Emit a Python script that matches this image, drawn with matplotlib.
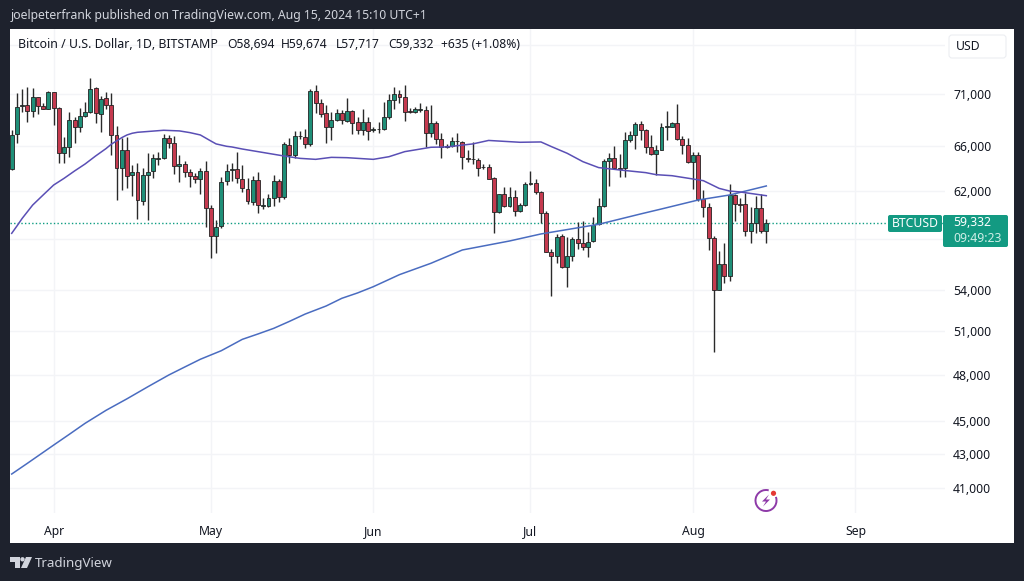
import numpy as np
from matplotlib import pyplot as plt
from matplotlib.patches import Rectangle, FancyBboxPatch, Arc, Circle, Polygon

opens = [63955, 67160, 69830, 69890, 69380, 70680, 69830, 69570, 71170, 69600,
         65430, 65920, 68470, 67780, 68860, 69280, 71570, 69050, 70580, 69960,
         67060, 64010, 65670, 63420, 63720, 61200, 63420, 63800, 64890, 64910,
         66750, 66350, 64190, 64400, 63660, 63340, 63040, 63780, 60600, 58250,
         59070, 62900, 63860, 63920, 63100, 62230, 61110, 62990, 60770, 60770,
         61400, 62900, 61480, 66170, 65190, 66930, 66840, 66200, 71340, 70080,
         69120, 67850, 68470, 69180, 68410, 69310, 68250, 67530, 68250, 67500,
         67600, 67660, 68730, 70410, 71010, 70680, 69310, 69220, 69470, 69410,
         67220, 68160, 66690, 65980, 66040, 66530, 66380, 64970, 64890, 64760,
         64160, 64160, 63130, 60210, 61740, 60770, 61540, 60320, 60820, 62660,
         62720, 61970, 60120, 56950, 56650, 58260, 55820, 56650, 58010, 57660,
         57340, 57880, 59210, 60770, 64700, 64970, 64020, 64020, 66590, 67090,
         68090, 67530, 65920, 65310, 65670, 67840, 67780, 68160, 66720, 66130,
         64550, 65220, 61340, 60630, 58120, 54030, 56000, 55120, 61680, 60880,
         60880, 58690, 59350, 60540, 58694]
highs = [67530, 71140, 71500, 71660, 71570, 70740, 70080, 71300, 71240, 69700,
         66900, 69210, 68730, 69600, 70180, 72640, 71660, 70810, 71240, 71140,
         67910, 66750, 66900, 64310, 64520, 64070, 65430, 65300, 65520, 67160,
         67060, 67000, 65220, 64700, 63920, 63570, 64010, 64680, 60820, 59570,
         63280, 64400, 64520, 65460, 64310, 63130, 63340, 63720, 61450, 61770,
         63400, 63040, 66440, 66750, 67440, 67440, 67600, 71470, 71900, 70550,
         69960, 69280, 69500, 69440, 70580, 69440, 68800, 69500, 68800, 67780,
         68320, 70250, 71010, 71660, 71400, 71900, 69600, 69760, 70080, 69830,
         69920, 68410, 67220, 66230, 66840, 67220, 66500, 65670, 66440, 64940,
         64400, 64400, 63220, 61770, 62340, 62400, 62110, 61030, 62840, 63780,
         63040, 62050, 60350, 57180, 58420, 58420, 58200, 58150, 59430, 59490,
         58560, 59790, 61400, 64820, 65370, 66040, 65310, 67370, 67470, 68320,
         68410, 67590, 67060, 66130, 68160, 69370, 68250, 69990, 66970, 66750,
         65520, 65520, 62110, 61030, 58280, 57050, 57720, 62630, 61740, 61400,
         61820, 60680, 61600, 61770, 59674]
lows = [63860, 66350, 69280, 68320, 68800, 69020, 69500, 69500, 68000, 64470,
        64470, 65060, 66290, 67370, 68800, 69180, 68160, 67370, 69500, 65220,
        61250, 62110, 62250, 61600, 59620, 60820, 59570, 63130, 64310, 64820,
        65820, 63510, 62780, 63280, 62400, 62690, 61770, 59020, 56470, 56910,
        58880, 62540, 62930, 62690, 61910, 60880, 60820, 60180, 60460, 60630,
        60740, 61110, 61310, 64520, 64910, 66660, 65860, 66040, 69120, 68800,
        66290, 66590, 68380, 68100, 68290, 67160, 67160, 67060, 66590, 67370,
        67220, 67530, 68600, 69540, 70080, 68410, 69120, 69120, 69250, 65920,
        66900, 66230, 64910, 65820, 65920, 65520, 63980, 64620, 64400, 63340,
        63980, 63040, 58470, 60180, 60680, 60630, 59900, 60260, 60770, 62550,
        61770, 59290, 56950, 53580, 56080, 55690, 54280, 56290, 57180, 57130,
        56600, 57800, 59150, 60680, 62460, 63930, 63220, 63280, 66440, 65800,
        66590, 65430, 65220, 63420, 65670, 66590, 67780, 66590, 65280, 64460,
        62170, 61200, 59790, 57130, 49590, 54030, 54590, 54740, 59510, 60260,
        58260, 57660, 58470, 58470, 57717]
closes = [67060, 69760, 69890, 69380, 70680, 69830, 69570, 71200, 69630, 65430,
          65920, 68470, 67850, 68860, 69280, 71500, 69120, 70480, 69960, 67090,
          64010, 65670, 63370, 63720, 61250, 63420, 63720, 64910, 64950, 66810,
          66350, 64220, 64400, 63690, 63370, 63040, 63750, 60600, 58250, 59020,
          62840, 63800, 63920, 63130, 62250, 61170, 62990, 60820, 60820, 61400,
          62900, 61480, 66230, 65190, 66960, 67000, 66230, 71340, 70080, 69050,
          67850, 68470, 69180, 68470, 69310, 68220, 67530, 68250, 67410, 67630,
          67660, 68730, 70410, 71010, 70740, 69280, 69250, 69570, 69540, 67280,
          68160, 66690, 65920, 66040, 66530, 66470, 65060, 64890, 64820, 64070,
          64100, 63100, 60210, 61740, 60770, 61540, 60320, 60820, 62600, 62720,
          61970, 60120, 57000, 56650, 58200, 55820, 56650, 57980, 57720, 57340,
          57800, 59150, 60770, 64700, 64970, 64020, 63960, 66590, 67090, 68060,
          67530, 65920, 65310, 65670, 67840, 67910, 68160, 66720, 66130, 64550,
          65220, 61340, 60630, 58120, 54030, 56000, 55120, 61680, 60880, 60800,
          58690, 59290, 60540, 58660, 59332]

ma50_days = [0, 1, 2, 4, 6, 8, 10, 12, 14, 16, 18, 19, 20, 21, 22, 23, 24, 29, 32,
             34, 36, 38, 39, 41, 42, 44, 47, 49, 52, 55, 58, 61, 64, 69, 72, 75,
             80, 83, 88, 91, 97, 101, 103, 106, 109, 112, 116, 121, 123, 126, 130,
             132, 135, 137, 139, 144]
ma50 = [58470, 59070, 59700, 60820, 61680, 62540, 63130, 63780, 64400, 65120,
        65800, 66200, 66500, 66810, 67060, 67220, 67310, 67500, 67440, 67280,
        67060, 66500, 66230, 66010, 65950, 65760, 65520, 65360, 65120, 64910,
        64820, 65000, 64970, 64820, 65060, 65520, 65920, 65950, 66230, 66550,
        66380, 66410, 65980, 65370, 64610, 64080, 63870, 63630, 63450, 63360,
        63070, 62920, 62250, 62020, 61940, 61620]

ma200_days = [0, 3, 8, 11, 14, 18, 22, 26, 30, 33, 36, 40, 44, 47, 50, 53, 56, 60,
              63, 66, 69, 74, 80, 86, 95, 101, 112, 120, 124, 131, 137, 144]
ma200 = [41810, 42440, 43530, 44190, 44870, 45690, 46430, 47220, 48000, 48530,
         49060, 49650, 50440, 50820, 51220, 51720, 52250, 52840, 53410, 53810,
         54280, 55200, 56080, 57130, 57850, 58420, 59210, 60070, 60490, 61250,
         61680, 62460]

grid_prices = [76000, 71000, 66000, 62000, 58000, 54000, 51000, 48000, 45000, 43000, 41000]
grid_labels = ['', '71,000', '66,000', '62,000', '', '54,000', '51,000', '48,000', '45,000', '43,000', '41,000']
month_days = [8, 38, 69, 99, 130, 161]
month_labels = ['Apr', 'May', 'Jun', 'Jul', 'Aug', 'Sep']

DARK = '#1e222d'
GREEN = '#1f8f78'
RED = '#c53a4f'
TEAL = '#139a82'
GRID = '#f3f4f7'
W, H = 1024, 581

plt.rcParams['font.family'] = ['Noto Sans', 'DejaVu Sans']
fig = plt.figure(figsize=(W / 100, H / 100), dpi=100, facecolor=DARK)

# white panel behind the chart
bg = fig.add_axes([0, 0, 1, 1], zorder=0)
bg.set_xlim(0, W)
bg.set_ylim(H, 0)
bg.axis('off')
bg.add_patch(Rectangle((10, 28.5), 1003.5, 514.5, facecolor='white', edgecolor='none'))

ax = fig.add_axes([10 / W, 1 - 513 / H, 935 / W, 484 / H], zorder=1)
ax.patch.set_alpha(0)
for s in ax.spines.values():
    s.set_visible(False)

days = np.arange(len(closes))
o = np.array(opens)
c = np.array(closes)
up = c >= o
ax.vlines(days, lows, highs, color='#2a2a2a', linewidth=1, zorder=3)
ax.bar(days, np.abs(c - o), bottom=np.minimum(o, c), width=0.75,
       color=np.where(up, GREEN, RED), edgecolor='#222222', linewidth=0.6, zorder=4)
ax.plot(ma200_days, ma200, color='#4a6cc0', linewidth=1.1, zorder=5)
ax.plot(ma50_days, ma50, color='#5a4fb5', linewidth=1.1, zorder=5)
ax.axhline(closes[-1], color='#0f9d82', linewidth=1, linestyle=(0, (1, 1.6)), zorder=2)

ax.set_yscale('log')
ax.set_xlim(-0.324, 178.1)
ax.set_ylim(39600, 77730)
ax.minorticks_off()
ax.yaxis.tick_right()
ax.set_yticks(grid_prices)
ax.set_yticklabels(grid_labels, fontsize=8.8, color='#131722')
ax.set_xticks(month_days)
ax.set_xticklabels(month_labels, fontsize=8.8, color='#131722')
ax.tick_params(axis='both', length=0)
ax.tick_params(axis='y', pad=5.8)
ax.tick_params(axis='x', pad=8.5)
ax.grid(True, color=GRID, linewidth=1, zorder=0)
ax.set_axisbelow(True)

# everything around the chart, in pixels
ov = fig.add_axes([0, 0, 1, 1], zorder=2)
ov.set_xlim(0, W)
ov.set_ylim(H, 0)
ov.axis('off')
ov.patch.set_alpha(0)

ov.text(11, 15.5, 'joelpeterfrank published on TradingView.com, Aug 15, 2024 15:10 UTC+1',
        color='#d1d4dc', fontsize=8.8, va='center')
ov.text(18.5, 45, 'Bitcoin / U.S. Dollar, 1D, BITSTAMP', color='#131722', fontsize=8.9, va='center')
for x, s in [(227, 'O58,694'), (281, 'H59,674'), (336, 'L57,717'), (388, 'C59,332'), (441, '+635 (+1.08%)')]:
    ov.text(x, 45, s, color='#131722', fontsize=8.7, va='center')

ov.add_patch(FancyBboxPatch((949, 35), 57, 23, boxstyle='round,pad=0,rounding_size=3',
                            facecolor='white', edgecolor='#eceef2', linewidth=0.8))
ov.text(968, 46, 'USD', color='#131722', fontsize=8.8, va='center', ha='center')

ov.add_patch(FancyBboxPatch((888, 215), 54, 17, boxstyle='round,pad=0,rounding_size=2',
                            facecolor=TEAL, edgecolor='none'))
ov.text(915, 223.5, 'BTCUSD', color='white', fontsize=8.8, va='center', ha='center')
ov.add_patch(FancyBboxPatch((943, 215), 65, 32, boxstyle='round,pad=0,rounding_size=2',
                            facecolor=TEAL, edgecolor='none'))
ov.text(953, 222.5, '59,332', color='white', fontsize=8.8, va='center')
ov.text(953, 238, '09:49:23', color='#cfeee7', fontsize=8.8, va='center')

# lightning badge
ov.add_patch(Arc((766, 500.5), 21, 21, theta1=-20, theta2=285, edgecolor='#8e3aa8', linewidth=1.4))
ov.add_patch(Polygon([(769, 494.5), (762, 501.5), (766, 501.5), (763, 506.5), (770, 499.5), (766, 499.5)],
                     facecolor='#8e3aa8', edgecolor='none'))
ov.add_patch(Circle((773.5, 493.3), 2.6, facecolor='#e53935', edgecolor='none'))

# TradingView logo
ov.add_patch(Polygon([(10, 557), (20, 557), (20, 568), (15, 568), (15, 561.5), (10, 561.5)],
                     facecolor='#d1d4dc', edgecolor='none'))
ov.add_patch(Circle((22.5, 559.3), 2.2, facecolor='#d1d4dc', edgecolor='none'))
ov.add_patch(Polygon([(26, 557), (32, 557), (27, 568), (21, 568)], facecolor='#d1d4dc', edgecolor='none'))
ov.text(35, 563, 'TradingView', color='#d1d4dc', fontsize=9.6, va='center')

fig.savefig('out.png', dpi=100, facecolor=DARK)
